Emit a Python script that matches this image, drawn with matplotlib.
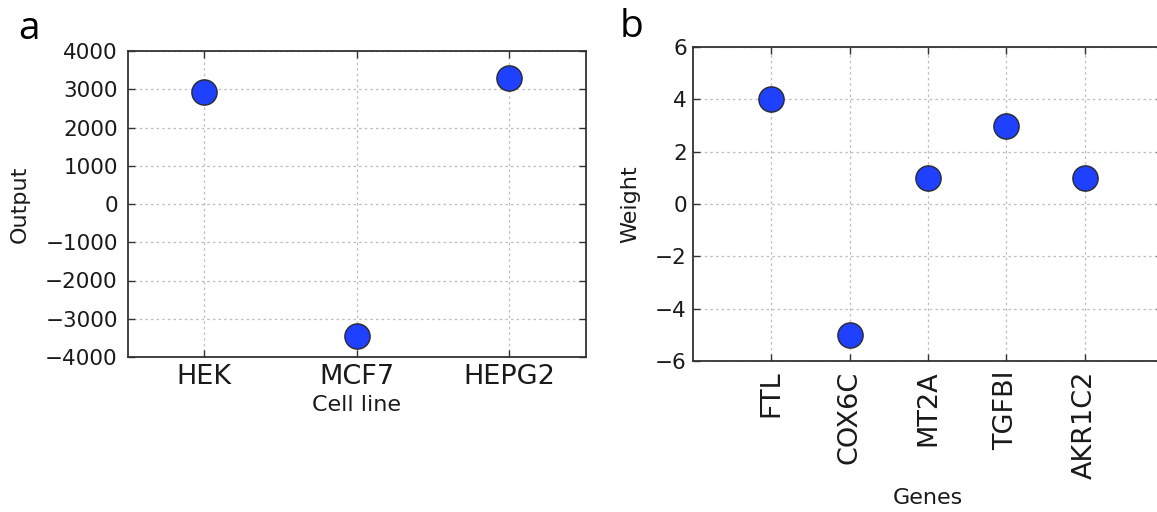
import matplotlib
matplotlib.use("Agg")
import matplotlib.pyplot as plt

cell_lines = ["HEK", "MCF7", "HEPG2"]
outputs = [2930, -3460, 3290]

genes = ["FTL", "COX6C", "MT2A", "TGFBI", "AKR1C2"]
weights = [4.0, -5.0, 1.0, 3.0, 1.0]

yticks_a = [-4000, -3000, -2000, -1000, 0, 1000, 2000, 3000, 4000]
yticks_b = [-6, -4, -2, 0, 2, 4, 6]

W, H = 1157, 512
fig = plt.figure(figsize=(W / 100, H / 100), dpi=100)

marker_color = (0.12, 0.25, 1.0)
edge_color = "#2a2a2a"
text_color = "#1a1a1a"


def style_axes(ax):
    for sp in ax.spines.values():
        sp.set_linewidth(1.3)
        sp.set_color("#333333")
    ax.tick_params(direction="in", top=True, right=True, length=5, width=1,
                   colors="#333333", labelcolor=text_color)
    ax.grid(True, color="#bdbdbd", linestyle=(0, (2, 2.5)), linewidth=0.9)
    ax.set_axisbelow(True)


# Panel a
ax1 = fig.add_axes([127.5 / W, 1 - 357 / H, (585.7 - 127.5) / W, (357 - 51) / H])
xa = list(range(len(cell_lines)))
ax1.scatter(xa, outputs, s=330, color=marker_color, edgecolors=edge_color,
            linewidths=1.0, zorder=3)
ax1.set_xlim(-0.5, 2.5)
ax1.set_ylim(-4000, 4000)
ax1.set_yticks(yticks_a)
ax1.set_yticklabels([str(v).replace("-", "\u2212") for v in yticks_a])
ax1.set_xticks(xa)
ax1.set_xticklabels(cell_lines)
style_axes(ax1)
ax1.tick_params(axis="y", labelsize=15.5, pad=7)
ax1.tick_params(axis="x", labelsize=19.5, pad=5)
ax1.set_ylabel("Output", fontsize=16, color=text_color)
ax1.yaxis.set_label_coords(-0.214, 0.5)
ax1.set_xlabel("Cell line", fontsize=16, color=text_color)
ax1.xaxis.set_label_coords(0.5, -0.125)

# Panel b
ax2 = fig.add_axes([693 / W, 1 - 361 / H, (1163 - 693) / W, (361 - 47) / H])
xb = list(range(len(genes)))
ax2.scatter(xb, weights, s=330, color=marker_color, edgecolors=edge_color,
            linewidths=1.0, zorder=3)
ax2.set_xlim(-1, 5)
ax2.set_ylim(-6, 6)
ax2.set_yticks(yticks_b)
ax2.set_yticklabels([str(v).replace("-", "\u2212") for v in yticks_b])
ax2.set_xticks(xb)
ax2.set_xticklabels(genes, rotation=90)
style_axes(ax2)
ax2.tick_params(axis="y", labelsize=15.5, pad=4.5)
ax2.tick_params(axis="x", labelsize=19.5, pad=7)
ax2.set_ylabel("Weight", fontsize=16, color=text_color)
ax2.yaxis.set_label_coords(-0.112, 0.5)
ax2.set_xlabel("Genes", fontsize=16, color=text_color)
ax2.xaxis.set_label_coords(0.5, -0.405)

# Panel letters
fig.text(18 / W, 1 - 39 / H, "a", fontsize=28, family="Open Sans",
         ha="left", va="baseline", color="black")
fig.text(620 / W, 1 - 37 / H, "b", fontsize=28, family="Open Sans",
         ha="left", va="baseline", color="black")

fig.savefig("out.png", dpi=100)
